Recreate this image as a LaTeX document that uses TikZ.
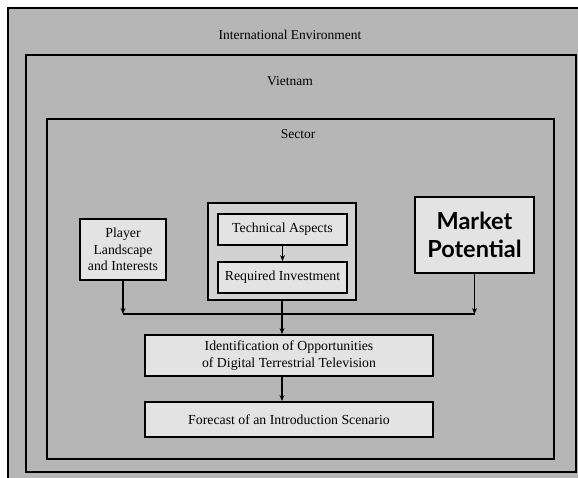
\documentclass[tikz,border=0pt]{standalone}
\usepackage{fontspec}
\setmainfont{Liberation Serif}
\newfontfamily\headfont{Lato}
\usetikzlibrary{arrows.meta}

\definecolor{bggray}{HTML}{B6B6B6}
\definecolor{boxgray}{HTML}{E3E3E3}
\definecolor{groupgray}{HTML}{D2D2D2}

\tikzset{
  frame/.style={draw=black, line width=1.4pt},
  framelabel/.style={font=\fontsize{13.5}{16}\selectfont, inner sep=0pt},
  stagebox/.style={draw=black, line width=1.8pt, fill=boxgray, align=center,
    inner sep=0pt, font=\fontsize{13.8}{16.5}\selectfont},
  groupbox/.style={draw=black, line width=2.6pt, fill=groupgray, inner sep=0pt},
  flow/.style={draw=black, line width=1.2pt, -{Stealth[length=6pt,width=5pt]}},
  bus/.style={draw=black, line width=1.2pt},
}

\begin{document}
\begin{tikzpicture}[x=1pt, y=-1pt]
  \useasboundingbox (0,0) rectangle (578,478);
  \clip (0,0) rectangle (578,478);
  \fill[white] (0,0) rectangle (578,478);

  % nested context frames
  \filldraw[frame, fill=bggray, line width=2pt] (8,8) rectangle (584,484);
  \draw[frame] (26,55) rectangle (576,472);
  \draw[frame] (47,119) rectangle (554,459);
  \node[framelabel] (intl) at (290,35) {International Environment};
  \node[framelabel] (viet) at (290,81) {Vietnam};
  \node[framelabel] (sector) at (298,134) {Sector};

  % analysis boxes
  \node[stagebox, minimum width=86pt, minimum height=61pt] (player) at (123,249.5)
    {Player\\Landscape\\and Interests};
  \node[groupbox, minimum width=148pt, minimum height=97pt] (group) at (282,251.5) {};
  \node[stagebox, minimum width=129pt, minimum height=31pt] (tech) at (282.5,229.5)
    {Technical Aspects};
  \node[stagebox, minimum width=129pt, minimum height=31pt] (invest) at (282.5,277.5)
    {Required Investment};
  \node[stagebox, minimum width=119pt, minimum height=76pt,
        font=\headfont\bfseries\fontsize{23.5}{28}\selectfont] (market) at (474.5,235)
    {Market\\Potential};

  % results
  \node[stagebox, minimum width=288pt, minimum height=41pt] (ident) at (289,355.5)
    {Identification of Opportunities\\of Digital Terrestrial Television};
  \node[stagebox, minimum width=288pt, minimum height=35pt] (forecast) at (289,419.5)
    {Forecast of an Introduction Scenario};

  % connectors
  \coordinate (busline) at (0,314);
  \draw[flow] (tech.south) -- (invest.north);
  \draw[bus] (player.south |- busline) -- (market.south |- busline);
  \draw[flow] (player.south) -- (player.south |- busline);
  \draw[flow] (market.south) -- (market.south |- busline);
  \draw[flow] (group.south) -- (group.south |- ident.north);
  \draw[flow] (ident.south -| group.south) -- (forecast.north -| group.south);
\end{tikzpicture}
\end{document}
